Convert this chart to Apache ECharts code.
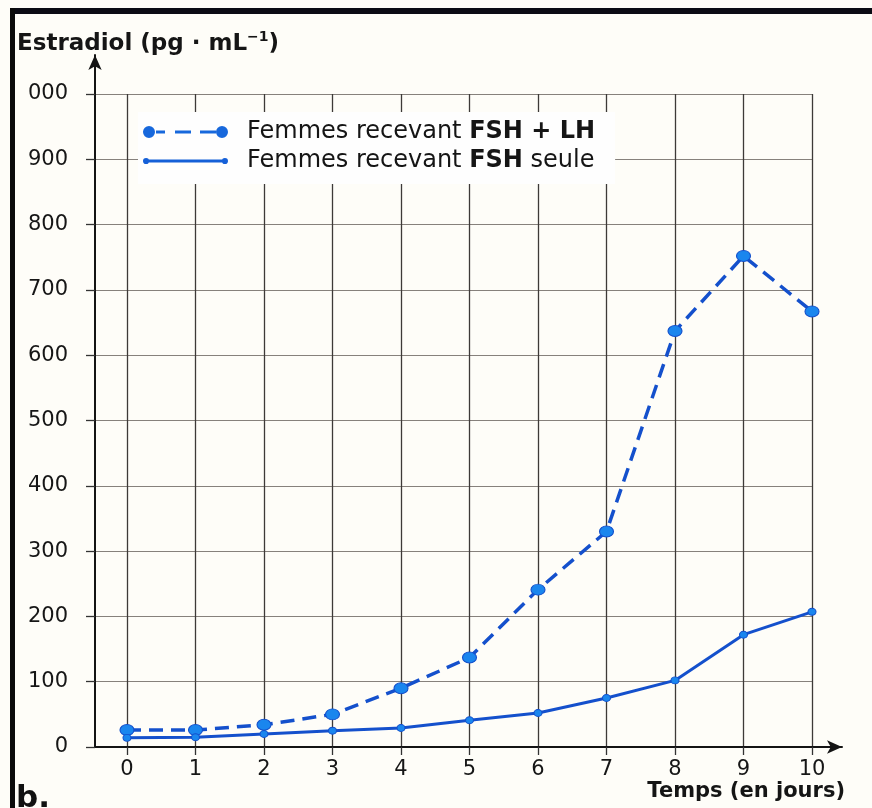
<!DOCTYPE html>
<html>
<head>
<meta charset="utf-8">
<script src="https://cdn.jsdelivr.net/npm/echarts@6/dist/echarts.min.js"></script>
<style>
html, body { margin: 0; padding: 0; background: #fefdf8; }
#chart { width: 872px; height: 808px; }
</style>
</head>
<body>
<div id="chart"></div>
<script>
// jours et valeurs
var days = [0, 1, 2, 3, 4, 5, 6, 7, 8, 9, 10];
var fshLh = [26, 26, 34, 50, 90, 137, 241, 330, 637, 752, 667];
var fshSeule = [14, 15, 20, 25, 29, 41, 52, 75, 102, 172, 207];
var yTickLabels = ['0', '100', '200', '300', '400', '500', '600', '700', '800', '900', '000'];
var xTickLabels = ['0', '1', '2', '3', '4', '5', '6', '7', '8', '9', '10'];
var seriesNames = ['Femmes recevant FSH + LH', 'Femmes recevant FSH seule'];
var legendRich = ['{n|Femmes recevant }{b|FSH + LH}', '{n|Femmes recevant }{b|FSH}{n| seule}'];

var FONT = '"DejaVu Sans", sans-serif';
var LINE_BLUE = '#1450cc';
var DOT_BLUE = '#1a86ee';

initEstradiolChart();

/*
 * graphique de l'estradiol
 */
function initEstradiolChart() {
	var myChart = echarts.init(document.getElementById('chart'), null, { renderer: 'canvas' });

	var dataLh = [], dataSeule = [];
	for (var i = 0; i < days.length; i++) {
		dataLh.push([days[i], fshLh[i]]);
		dataSeule.push([days[i], fshSeule[i]]);
	}

	var iconDash = 'path://M0,7 A6,6 0 1,1 12,7 A6,6 0 1,1 0,7 Z M13,5.5 L22,5.5 L22,8.5 L13,8.5 Z M32,5.5 L48,5.5 L48,8.5 L32,8.5 Z M57,5.5 L73,5.5 L73,8.5 L57,8.5 Z M73,7 A6,6 0 1,1 85,7 A6,6 0 1,1 73,7 Z';
	var iconSolid = 'path://M0,4 A3,3 0 1,1 6,4 A3,3 0 1,1 0,4 Z M3,2.6 L80,2.6 L80,5.4 L3,5.4 Z M77,4 A3,3 0 1,1 83,4 A3,3 0 1,1 77,4 Z';

	var option = {
		backgroundColor: '#fefdf8',
		animation: false,
		title: [{
			left: 12,
			top: 25,
			text: '{b|Estradiol}{n| (pg · mL}{s|−1}{n|)}',
			textStyle: {
				rich: {
					b: { fontFamily: FONT, fontSize: 23, fontWeight: 'bold', color: '#151515', lineHeight: 28 },
					n: { fontFamily: FONT, fontSize: 23, color: '#151515', lineHeight: 28 },
					s: { fontFamily: FONT, fontSize: 14, color: '#151515', verticalAlign: 'top', lineHeight: 28 }
				}
			}
		}, {
			right: 22,
			top: 776,
			text: '{b|Temps}{n| (en jours)}',
			textStyle: {
				rich: {
					b: { fontFamily: FONT, fontSize: 21, fontWeight: 'bold', color: '#151515' },
					n: { fontFamily: FONT, fontSize: 21, color: '#151515' }
				}
			}
		}, {
			left: 11,
			top: 778,
			text: 'b.',
			textStyle: { fontFamily: FONT, fontSize: 31, fontWeight: 'bold', color: '#111' }
		}],
		legend: {
			orient: 'vertical',
			left: 138,
			top: 112,
			padding: [7, 20, 10, 5],
			backgroundColor: '#fefefe',
			itemWidth: 85,
			itemHeight: 14,
			itemGap: 3,
			selectedMode: false,
			data: [
				{ name: seriesNames[0], icon: iconDash, itemStyle: { color: '#1768dc', borderWidth: 0 } },
				{ name: seriesNames[1], icon: iconSolid, itemStyle: { color: '#1560d8', borderWidth: 0 } }
			],
			formatter: function (name) {
				return legendRich[seriesNames.indexOf(name)];
			},
			textStyle: {
				padding: [0, 0, 0, 14],
				lineHeight: 26,
				rich: {
					n: { fontFamily: FONT, fontSize: 24, color: '#151515' },
					b: { fontFamily: FONT, fontSize: 24, fontWeight: 'bold', color: '#151515' }
				}
			}
		},
		grid: [
			{ left: 95, top: 94, width: 717, height: 653 },
			{ left: 127, top: 94, width: 685, height: 653 },
			{ left: 95, top: 55, width: 747, height: 692 }
		],
		xAxis: [{
			gridIndex: 0, type: 'value', min: 0, max: 1, show: false
		}, {
			gridIndex: 1,
			type: 'value',
			min: 0,
			max: 10,
			interval: 1,
			axisLine: { show: false },
			axisTick: { show: true, length: 8, lineStyle: { color: '#333', width: 1.3 } },
			axisLabel: {
				margin: 12,
				fontFamily: FONT,
				fontSize: 21,
				color: '#161616',
				formatter: function (v) { return xTickLabels[Math.round(v)]; }
			},
			splitLine: { show: true, lineStyle: { color: '#3d3a38', width: 1.3 } }
		}, {
			gridIndex: 2,
			type: 'value',
			min: 0,
			max: 1,
			axisLine: { show: true, symbol: ['none', 'arrow'], symbolSize: [10, 15], lineStyle: { color: '#141414', width: 2 } },
			axisTick: { show: false },
			axisLabel: { show: false },
			splitLine: { show: false }
		}],
		yAxis: [{
			gridIndex: 0,
			type: 'value',
			min: 0,
			max: 1000,
			interval: 100,
			axisLine: { show: false },
			axisTick: { show: true, length: 9, lineStyle: { color: '#333', width: 1.3 } },
			axisLabel: {
				margin: 27,
				fontFamily: FONT,
				fontSize: 21,
				color: '#161616',
				formatter: function (v) { return yTickLabels[Math.round(v / 100)]; }
			},
			splitLine: { show: true, lineStyle: { color: '#86817c', width: 1.2 } }
		}, {
			gridIndex: 1, type: 'value', min: 0, max: 1000, show: false
		}, {
			gridIndex: 2,
			type: 'value',
			min: 0,
			max: 1,
			axisLine: { show: true, symbol: ['none', 'arrow'], symbolSize: [10, 15], lineStyle: { color: '#141414', width: 2 } },
			axisTick: { show: false },
			axisLabel: { show: false },
			splitLine: { show: false }
		}],
		graphic: [
			{ type: 'rect', shape: { x: 10, y: 8, width: 862, height: 6 }, style: { fill: '#0b0b14' }, z: 100 },
			{ type: 'rect', shape: { x: 10, y: 8, width: 5, height: 800 }, style: { fill: '#0b0b0b' }, z: 100 }
		],
		series: [{
			name: seriesNames[0],
			type: 'line',
			xAxisIndex: 1,
			yAxisIndex: 1,
			data: dataLh,
			symbol: 'circle',
			symbolSize: [14, 11],
			z: 3,
			lineStyle: { color: LINE_BLUE, width: 3.5, type: [14, 8] },
			itemStyle: { color: DOT_BLUE, borderColor: LINE_BLUE, borderWidth: 1 }
		}, {
			name: seriesNames[1],
			type: 'line',
			xAxisIndex: 1,
			yAxisIndex: 1,
			data: dataSeule,
			symbol: 'circle',
			symbolSize: [8, 7],
			z: 3,
			lineStyle: { color: LINE_BLUE, width: 3 },
			itemStyle: { color: DOT_BLUE, borderColor: LINE_BLUE, borderWidth: 1 }
		}]
	};
	myChart.setOption(option, true);
}
</script>
</body>
</html>
